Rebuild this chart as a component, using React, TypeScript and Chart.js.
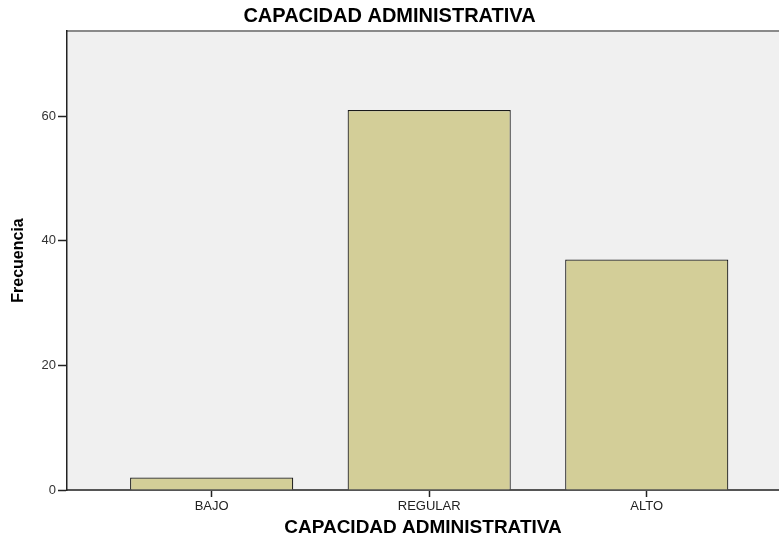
import React, { useEffect, useRef } from "react";
import { Chart, registerables } from "chart.js";

Chart.register(...registerables);

const categories = ["BAJO", "REGULAR", "ALTO"];
const frequencies = [2, 61, 37];
const yTicks = [0, 20, 40, 60];
const chartTitle = "CAPACIDAD ADMINISTRATIVA";
const xTitle = "CAPACIDAD ADMINISTRATIVA";
const yTitle = "Frecuencia";

const FONT = "'Liberation Sans', Arial, sans-serif";

const plotBg = {
  id: "plotBg",
  beforeDraw(chart: any) {
    const { ctx, chartArea } = chart;
    if (!chartArea) return;
    ctx.save();
    ctx.fillStyle = "#f0f0f0";
    ctx.fillRect(chartArea.left, chartArea.top, chartArea.right - chartArea.left, chartArea.bottom - chartArea.top);
    ctx.strokeStyle = "#8a8a8a";
    ctx.lineWidth = 2;
    ctx.beginPath();
    ctx.moveTo(chartArea.left, chartArea.top);
    ctx.lineTo(chartArea.right, chartArea.top);
    ctx.stroke();
    ctx.restore();
  },
};

export default function App() {
  const ref = useRef<HTMLCanvasElement>(null);

  useEffect(() => {
    if (!ref.current) return;
    const chart = new Chart(ref.current, {
      type: "bar",
      data: {
        datasets: [
          {
            data: frequencies.map((v, i) => ({ x: i, y: v })),
            backgroundColor: "#d3ce98",
            borderColor: "#1a1a1a",
            borderWidth: 1.2,
            barPercentage: 0.75,
            categoryPercentage: 1,
          },
        ],
      },
      options: {
        animation: false,
        responsive: false,
        maintainAspectRatio: false,
        layout: { padding: 0 },
        plugins: {
          legend: { display: false },
          tooltip: { enabled: false },
          title: {
            display: true,
            text: chartTitle,
            color: "#000",
            font: { family: FONT, size: 20, weight: "bold" },
            padding: { top: 4, bottom: 3 },
          },
        },
        scales: {
          x: {
            type: "linear",
            offset: false,
            min: -0.665,
            max: 2.608,
            afterBuildTicks(scale: any) {
              scale.ticks = categories.map((_, i) => ({ value: i }));
            },
            afterFit(scale: any) {
              scale.height = 49;
            },
            ticks: {
              callback: (v: any) => categories[v as number] ?? "",
              color: "#222",
              font: { family: FONT, size: 13 },
              padding: 2,
              maxRotation: 0,
              autoSkip: false,
            },
            grid: {
              offset: false,
              display: true,
              drawOnChartArea: false,
              drawTicks: true,
              tickLength: 7,
              tickColor: "#222",
              tickWidth: 1.5,
              color: "#222",
            },
            border: { color: "#555", width: 2 },
            title: {
              display: true,
              text: xTitle,
              color: "#000",
              font: { family: FONT, size: 19, weight: "bold" },
              padding: { top: 0, bottom: 0 },
            },
          },
          y: {
            min: 0,
            max: 73.7,
            afterBuildTicks(scale: any) {
              scale.ticks = yTicks.map((v) => ({ value: v }));
            },
            afterFit(scale: any) {
              scale.width = 67;
            },
            ticks: {
              color: "#333",
              font: { family: FONT, size: 13 },
              padding: 2,
            },
            grid: {
              drawOnChartArea: false,
              drawTicks: true,
              tickLength: 9,
              tickColor: "#222",
              tickWidth: 1.5,
              color: "#222",
            },
            border: { color: "#222", width: 1.5 },
            title: {
              display: true,
              text: yTitle,
              color: "#000",
              font: { family: FONT, size: 16, weight: "bold" },
              padding: { top: 9, bottom: 0 },
            },
          },
        },
      },
      plugins: [plotBg],
    });
    return () => chart.destroy();
  }, []);

  return (
    <div style={{ position: "fixed", left: 0, top: 0, width: 779, height: 539, background: "#fff" }}>
      <canvas ref={ref} width={779} height={539} style={{ display: "block" }} />
    </div>
  );
}
